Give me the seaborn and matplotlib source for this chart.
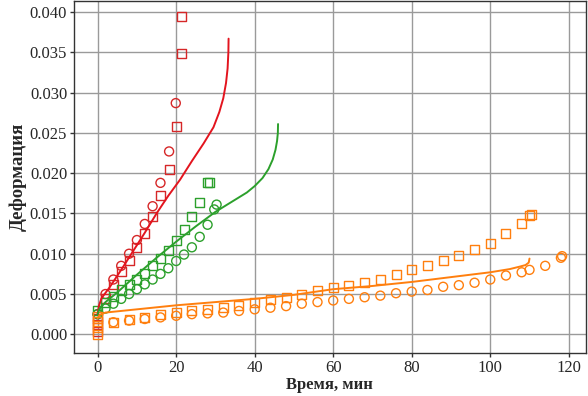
import numpy as np
import matplotlib
matplotlib.use('Agg')
import matplotlib.pyplot as plt
import seaborn as sns

sns.set_theme(style='whitegrid')
plt.rcParams['font.family'] = ['Liberation Serif', 'DejaVu Serif']

# red series
red_sq_t = [0, 0, 0, 2, 4, 6, 8, 10, 12, 14, 16, 18.2, 20, 21.4, 21.3]
red_sq_y = [0.0003, 0.0012, 0.0020, 0.0045, 0.0062, 0.0078, 0.0091, 0.0108, 0.0125, 0.0146, 0.0172, 0.0205, 0.0258, 0.0348, 0.0394]
red_ci_t = [0, 2, 4, 6, 8, 10, 12, 14, 16, 18.2, 19.9]
red_ci_y = [0.0025, 0.0050, 0.0068, 0.0085, 0.0100, 0.0117, 0.0137, 0.0159, 0.0188, 0.0227, 0.0287]
red_ln_t = [0, 0.3, 1, 3, 6, 9, 12, 15, 18, 21, 24, 27, 29.5, 31, 32, 32.7, 33.1, 33.3, 33.35]
red_ln_y = [0.0025, 0.0035, 0.0045, 0.0058, 0.0080, 0.0103, 0.0126, 0.0150, 0.0172, 0.0192, 0.0215, 0.0237,
            0.0257, 0.0276, 0.0293, 0.0312, 0.0330, 0.0350, 0.0367]

# green series
grn_sq_t = [0, 2, 4, 6, 8, 10, 12, 14, 16, 18, 20, 22, 24, 26, 28, 28.6]
grn_sq_y = [0.0030, 0.0040, 0.0047, 0.0055, 0.0062, 0.0068, 0.0076, 0.0085, 0.0094, 0.0104, 0.0116, 0.0130, 0.0146, 0.0164, 0.0188, 0.0188]
grn_ci_t = [0, 2, 4, 6, 8, 10, 12, 14, 16, 18, 20, 22, 24, 26, 28, 29.7, 30.3]
grn_ci_y = [0.0025, 0.0032, 0.0038, 0.0044, 0.0050, 0.0056, 0.0062, 0.0068, 0.0075, 0.0082, 0.0091, 0.0099, 0.0108, 0.0121, 0.0136, 0.0155, 0.0161]
grn_ln_t = [0, 0.5, 2, 5, 10, 15, 20, 25, 30, 35, 38, 40, 42, 43.5, 44.6, 45.3, 45.7, 45.9, 45.95]
grn_ln_y = [0.0025, 0.0032, 0.0040, 0.0052, 0.0074, 0.0095, 0.0115, 0.0134, 0.0152, 0.0167, 0.0176, 0.0184,
            0.0194, 0.0205, 0.0217, 0.0229, 0.0240, 0.0250, 0.0261]

# orange series
org_sq_t = [0, 0, 0, 0, 4, 8, 12, 16, 20, 24, 28, 32, 36, 40, 44, 48, 52, 56, 60, 64, 68, 72, 76, 80,
            84, 88, 92, 96, 100, 104, 108, 110, 110.5]
org_sq_y = [0.0000, 0.0008, 0.0016, 0.0022, 0.0015, 0.0018, 0.0021, 0.0024, 0.0027, 0.0029, 0.0031, 0.0033,
            0.0036, 0.0040, 0.0043, 0.0046, 0.0050, 0.0054, 0.0058, 0.0061, 0.0064, 0.0068, 0.0074, 0.0080,
            0.0085, 0.0092, 0.0098, 0.0105, 0.0113, 0.0125, 0.0138, 0.0147, 0.0149]
org_ci_t = [4, 8, 12, 16, 20, 24, 28, 32, 36, 40, 44, 48, 52, 56, 60, 64, 68, 72, 76, 80, 84, 88, 92, 96,
            100, 104, 108, 110, 114, 118, 118.3]
org_ci_y = [0.0015, 0.0017, 0.0019, 0.0021, 0.0023, 0.0025, 0.0026, 0.0027, 0.0029, 0.0031, 0.0033, 0.0035,
            0.0038, 0.0040, 0.0042, 0.0044, 0.0046, 0.0048, 0.0051, 0.0053, 0.0055, 0.0059, 0.0061, 0.0064,
            0.0068, 0.0073, 0.0077, 0.0080, 0.0085, 0.0095, 0.0097]
org_ln_t = [0, 0.5, 2, 10, 20, 30, 40, 50, 60, 70, 80, 90, 100, 105, 107.5, 109, 109.8, 110]
org_ln_y = [0.0020, 0.0024, 0.0027, 0.0031, 0.0036, 0.0040, 0.0044, 0.0049, 0.0056, 0.0060, 0.0065, 0.0071,
            0.0077, 0.0081, 0.0084, 0.0086, 0.0089, 0.0094]

series = [
    ('#d62728', '#e3141e', red_sq_t, red_sq_y, red_ci_t, red_ci_y, red_ln_t, red_ln_y),
    ('#2ca02c', '#2ca02c', grn_sq_t, grn_sq_y, grn_ci_t, grn_ci_y, grn_ln_t, grn_ln_y),
    ('#ff7f0e', '#ff7f0e', org_sq_t, org_sq_y, org_ci_t, org_ci_y, org_ln_t, org_ln_y),
]

fig, ax = plt.subplots(figsize=(5.88, 3.96), dpi=100)
fig.subplots_adjust(left=0.126, right=0.996, top=0.998, bottom=0.109)

for mc, lc, st, sy, ct, cy, lt, ly in series:
    sns.lineplot(x=lt, y=ly, color=lc, linewidth=1.4, sort=False, estimator=None, ax=ax)
    sns.scatterplot(x=st, y=sy, marker='s', s=42, facecolors='none', edgecolor=mc, linewidth=1.0, ax=ax)
    sns.scatterplot(x=ct, y=cy, marker='o', s=42, facecolors='none', edgecolor=mc, linewidth=1.0, ax=ax)

ax.set_xlim(-6, 124.3)
ax.set_ylim(-0.0023, 0.0414)
ax.set_xticks(np.arange(0, 121, 20))
ax.set_yticks(np.arange(0, 0.0401, 0.005))
ax.yaxis.set_major_formatter(matplotlib.ticker.FormatStrFormatter('%.3f'))
ax.grid(True, color='#9a9a9a', linewidth=1.0)
for sp in ax.spines.values():
    sp.set_color('#333333')
    sp.set_linewidth(1.0)
ax.tick_params(axis='both', which='major', direction='out', length=3, width=1, color='#333333',
               labelsize=12, pad=2, left=True, bottom=True)
ax.set_xlabel('Время, мин', fontsize=12, fontweight='bold', labelpad=1)
ax.set_ylabel('Деформация', fontsize=13.5, fontweight='bold', labelpad=2)

fig.savefig('out.png', dpi=100)
